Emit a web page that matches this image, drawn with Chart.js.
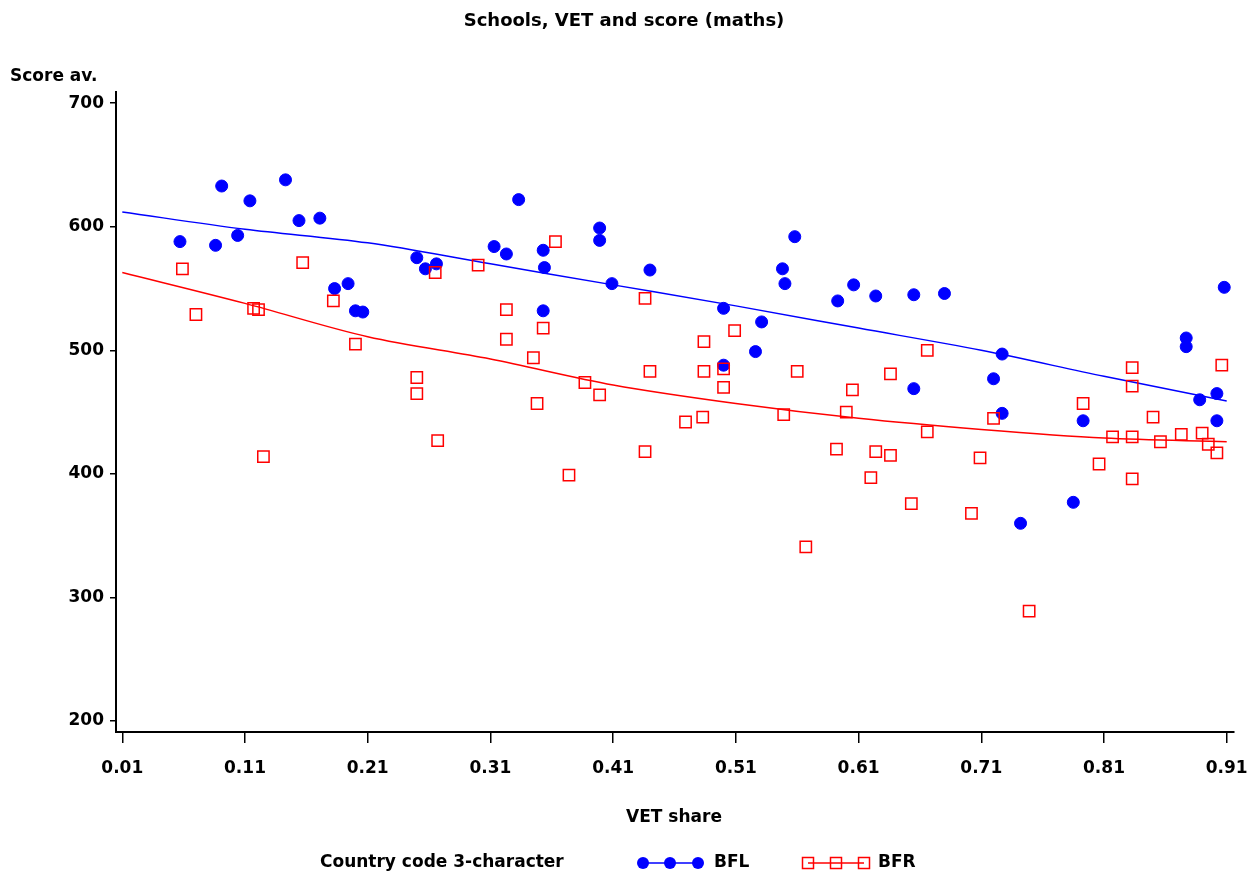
<!DOCTYPE html>
<html>
<head>
<meta charset="utf-8">
<title>Schools, VET and score (maths)</title>
<script src="https://cdn.jsdelivr.net/npm/chart.js@4/dist/chart.umd.min.js"></script>
<style>
  html, body { margin: 0; padding: 0; background: #fff; }
  #wrap { width: 1259px; height: 880px; }
</style>
</head>
<body>
<div id="wrap"><canvas id="myChart" width="1259" height="880"></canvas></div>
<script>
// BFL schools (blue dots)
const bflShare = [0.057, 0.086, 0.091, 0.104, 0.114, 0.143, 0.154, 0.171, 0.183, 0.194, 0.200, 0.206,
  0.250, 0.257, 0.266, 0.313, 0.323, 0.333, 0.353, 0.354, 0.353, 0.399, 0.399, 0.409, 0.440,
  0.500, 0.500, 0.531, 0.526, 0.548, 0.550, 0.558, 0.593, 0.606, 0.624, 0.655, 0.655, 0.680,
  0.727, 0.720, 0.727, 0.742, 0.785, 0.793, 0.877, 0.877, 0.888, 0.902, 0.902, 0.908];
const bflScore = [588, 585, 633, 593, 621, 638, 605, 607, 550, 554, 532, 531,
  575, 566, 570, 584, 578, 622, 581, 567, 532, 599, 589, 554, 565,
  534, 488, 523, 499, 566, 554, 592, 540, 553, 544, 545, 469, 546,
  497, 477, 449, 360, 377, 443, 510, 503, 460, 465, 443, 551];

// BFR schools (red squares)
const bfrShare = [0.059, 0.070, 0.117, 0.121, 0.125, 0.157, 0.182, 0.200, 0.250, 0.250, 0.265, 0.267,
  0.300, 0.323, 0.323, 0.345, 0.348, 0.353, 0.363, 0.374, 0.387, 0.399, 0.436, 0.436, 0.440,
  0.469, 0.484, 0.484, 0.483, 0.500, 0.500, 0.509, 0.549, 0.560, 0.567, 0.592, 0.600, 0.605,
  0.620, 0.624, 0.636, 0.636, 0.653, 0.666, 0.666, 0.702, 0.709, 0.720, 0.749, 0.793, 0.806,
  0.817, 0.833, 0.833, 0.833, 0.833, 0.850, 0.856, 0.873, 0.890, 0.895, 0.902, 0.906];
const bfrScore = [566, 529, 534, 533, 414, 571, 540, 505, 478, 465, 563, 427,
  569, 533, 509, 494, 457, 518, 588, 399, 474, 464, 542, 418, 483,
  442, 507, 483, 446, 485, 470, 516, 448, 483, 341, 420, 450, 468,
  397, 418, 481, 415, 376, 500, 434, 368, 413, 445, 289, 457, 408,
  430, 486, 471, 430, 396, 446, 426, 432, 433, 424, 417, 488];

// smoothed fit lines, read at the tick positions
const fitShare = [0.01, 0.11, 0.21, 0.31, 0.41, 0.51, 0.61, 0.71, 0.81, 0.91];
const bflFit = [612, 598, 587, 570, 553, 536, 518, 500, 479, 459];
const bfrFit = [563, 538, 511, 493, 472, 457, 445, 436, 429, 426];

const xTicks = [0.01, 0.11, 0.21, 0.31, 0.41, 0.51, 0.61, 0.71, 0.81, 0.91];
const xTickLabels = ['0.01', '0.11', '0.21', '0.31', '0.41', '0.51', '0.61', '0.71', '0.81', '0.91'];
const yTicks = [200, 300, 400, 500, 600, 700];

const BLUE = 'rgb(0, 0, 255)';
const RED = 'rgb(255, 0, 0)';
const FONT = '"DejaVu Sans", "Liberation Sans", Arial, sans-serif';

Chart.defaults.font.family = FONT;
Chart.defaults.font.size = 17;
Chart.defaults.font.weight = 'bold';
Chart.defaults.color = '#000';

const toPoints = (xs, ys) => xs.map((x, i) => ({ x: x, y: ys[i] }));

// title, axis texts and legend, SAS style
const sasText = {
  id: 'sasText',
  afterDraw(chart) {
    const c = chart.ctx;
    c.save();
    c.fillStyle = '#000';
    c.font = 'bold 18px ' + FONT;
    c.textAlign = 'center';
    c.textBaseline = 'middle';
    c.fillText('Schools, VET and score (maths)', 624, 21);

    c.font = 'bold 17px ' + FONT;
    c.textAlign = 'left';
    c.fillText('Score av.', 10, 77);

    c.textAlign = 'center';
    c.fillText('VET share', 674, 818);

    // legend
    const ly = 863;
    c.textAlign = 'left';
    c.fillText('Country code 3-character', 320, ly);

    c.strokeStyle = BLUE;
    c.lineWidth = 1.5;
    c.beginPath(); c.moveTo(643, ly); c.lineTo(698, ly); c.stroke();
    c.fillStyle = BLUE;
    [643, 670, 698].forEach(x => { c.beginPath(); c.arc(x, ly, 6, 0, Math.PI * 2); c.fill(); });
    c.fillStyle = '#000';
    c.fillText('BFL', 714, ly);

    c.strokeStyle = RED;
    c.beginPath(); c.moveTo(808, ly); c.lineTo(864, ly); c.stroke();
    [808, 836, 864].forEach(x => { c.strokeRect(x - 5.5, ly - 5.5, 11, 11); });
    c.fillText('BFR', 878, ly);
    c.restore();
  }
};

const noEdgePadding = (scale) => {
  scale.paddingLeft = 0;
  scale.paddingRight = 0;
  scale.paddingTop = 0;
  scale.paddingBottom = 0;
};

const ctx = document.getElementById('myChart').getContext('2d');
const myChart = new Chart(ctx, {
  type: 'scatter',
  data: {
    datasets: [
      {
        label: 'BFR',
        data: toPoints(bfrShare, bfrScore),
        pointStyle: 'rect',
        pointRadius: 8,
        pointBorderWidth: 1.5,
        pointBackgroundColor: 'rgba(0,0,0,0)',
        pointBorderColor: RED,
        showLine: false,
        order: 0,
      },
      {
        label: 'BFL',
        data: toPoints(bflShare, bflScore),
        pointStyle: 'circle',
        pointRadius: 6,
        pointBorderWidth: 1,
        pointBackgroundColor: BLUE,
        pointBorderColor: BLUE,
        showLine: false,
        order: 1,
      },
      {
        label: 'BFR fit',
        type: 'line',
        data: toPoints(fitShare, bfrFit),
        borderColor: RED,
        borderWidth: 1.5,
        pointRadius: 0,
        tension: 0.4,
        cubicInterpolationMode: 'monotone',
        fill: false,
        order: 2,
      },
      {
        label: 'BFL fit',
        type: 'line',
        data: toPoints(fitShare, bflFit),
        borderColor: BLUE,
        borderWidth: 1.5,
        pointRadius: 0,
        tension: 0.4,
        cubicInterpolationMode: 'monotone',
        fill: false,
        order: 3,
      },
    ],
  },
  options: {
    responsive: false,
    animation: false,
    layout: { padding: { top: 92, right: 25, bottom: 0, left: 0 } },
    plugins: {
      legend: { display: false },
      title: { display: false },
      tooltip: { enabled: false },
    },
    scales: {
      x: {
        type: 'linear',
        min: 0.00487,
        max: 0.91595,
        afterBuildTicks: (scale) => { scale.ticks = xTicks.map(v => ({ value: v })); },
        afterFit: (scale) => { scale.height = 880 - 732; noEdgePadding(scale); },
        ticks: {
          padding: 15,
          maxRotation: 0,
          autoSkip: false,
          callback: (v) => xTickLabels[xTicks.indexOf(v)] ?? '',
        },
        grid: { drawOnChartArea: false, drawTicks: true, tickLength: 11, color: '#000', lineWidth: 1.5 },
        border: { display: true, color: '#000', width: 2 },
      },
      y: {
        type: 'linear',
        min: 191.1,
        max: 709.1,
        afterBuildTicks: (scale) => { scale.ticks = yTicks.map(v => ({ value: v })); },
        afterFit: (scale) => { scale.width = 116; noEdgePadding(scale); },
        ticks: { padding: 6, autoSkip: false },
        grid: { drawOnChartArea: false, drawTicks: true, tickLength: 6, color: '#000', lineWidth: 1.5 },
        border: { display: true, color: '#000', width: 2 },
      },
    },
  },
  plugins: [sasText],
});
</script>
</body>
</html>
